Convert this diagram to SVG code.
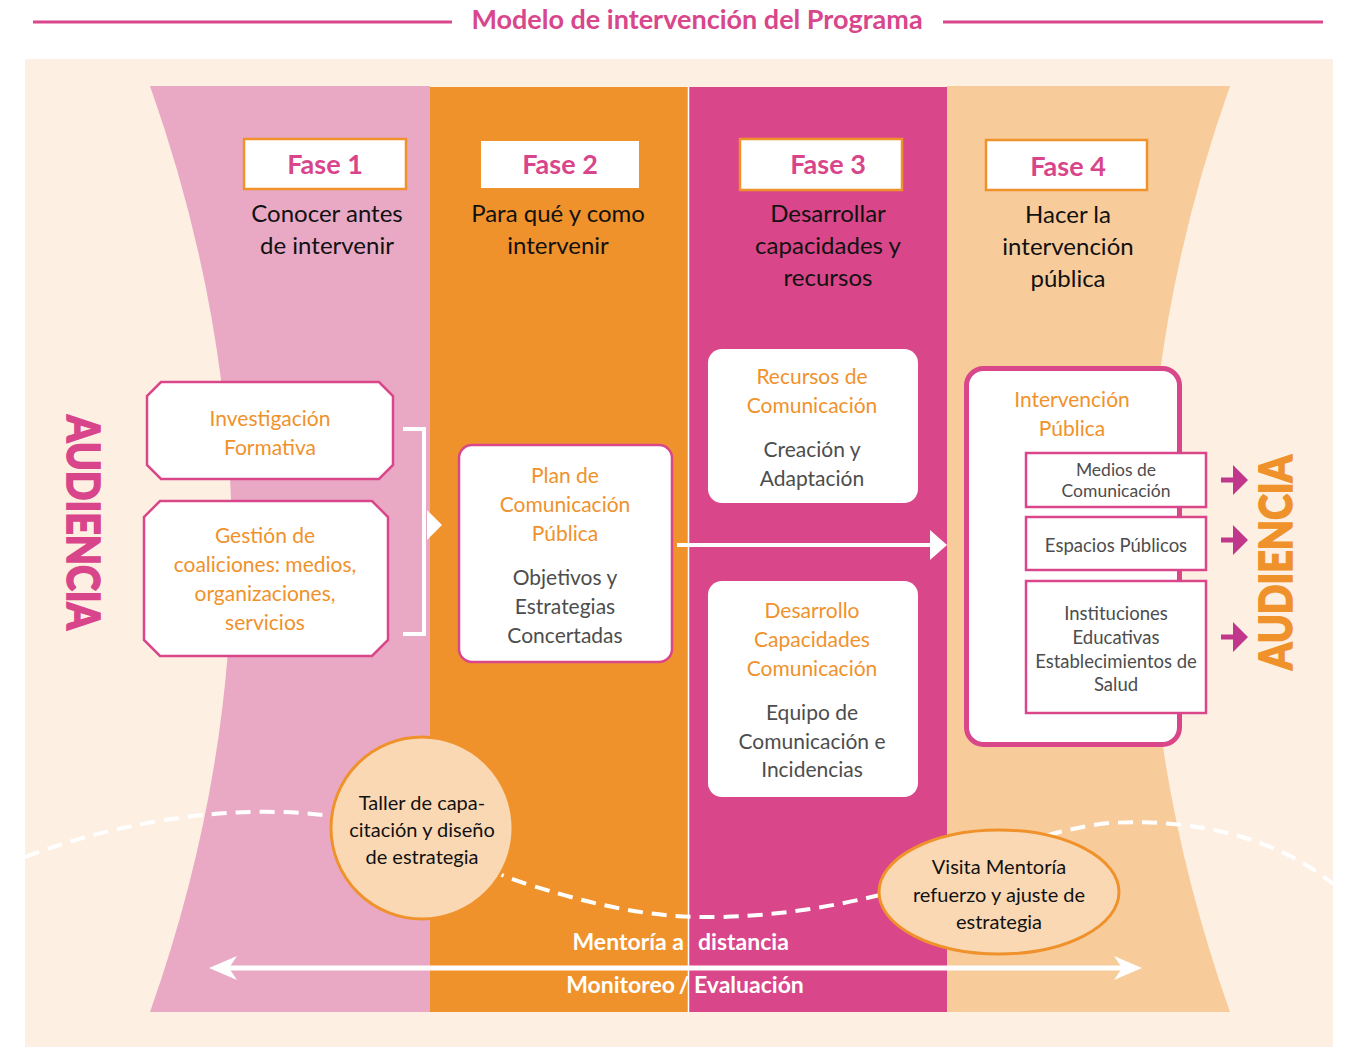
<svg xmlns="http://www.w3.org/2000/svg" width="1349" height="1047" viewBox="0 0 1349 1047">
<defs>
<style>
text{font-family:Lato,"Open Sans","Liberation Sans",sans-serif;text-anchor:middle}
.title{font-size:27px;font-weight:700;fill:#d8468b}
.fase{font-size:27px;font-weight:700;fill:#d9458a}
.sub{font-size:24px;fill:#111}
.or{font-size:21px;fill:#f0922c}
.gr{font-size:21px;fill:#4d4d4d}
.sm{font-size:18.5px;fill:#4d4d4d}
.sm2{font-size:17.5px;fill:#4d4d4d}
.blk{font-size:20px;fill:#111}
.wb{font-size:23px;font-weight:700;fill:#fff}
.aud{font-size:45px;font-weight:900;stroke-width:1.6}
.fbox{fill:#fff;stroke:#f0922c;stroke-width:2.5}
.oct{fill:#fff;stroke:#d9478a;stroke-width:2.5}
.pbox{fill:#fff;stroke:#d9478a;stroke-width:2.5}
.wl{fill:none;stroke:#fff;stroke-width:4}
.ma{fill:#c1378c}
</style>
</defs>
<rect x="0" y="0" width="1349" height="1047" fill="#fff"/>
<g id="title">
<line x1="33" y1="22" x2="452" y2="22" stroke="#d9478a" stroke-width="3"/>
<line x1="943" y1="22" x2="1323" y2="22" stroke="#d9478a" stroke-width="3"/>
<text class="title" x="697" y="29">Modelo de intervención del Programa</text>
</g>
<rect x="25" y="59" width="1308" height="988" fill="#fdefe2"/>
<g id="columns">
<path d="M150 86 L430 86 L430 1012 L150 1012 Q314 549 150 86 Z" fill="#e9a9c5"/>
<rect x="430" y="87" width="258" height="925" fill="#f0922c"/>
<rect x="689" y="87" width="258" height="925" fill="#d94689"/>
<path d="M947 86 L1230 86 Q1066 549 1230 1012 L947 1012 Z" fill="#f8cb9b"/>
<line x1="688.5" y1="87" x2="688.5" y2="1012" stroke="#fff" stroke-width="1.5"/>
</g>
<g id="connectors">
<path d="M25 857 C110 825 200 810 280 812 C400 815 450 860 530 885 C610 910 660 918 720 917 C800 915 860 900 900 890 C980 860 1040 830 1110 823 C1200 818 1280 840 1333 884" fill="none" stroke="#fff" stroke-width="4" stroke-dasharray="15 9"/>
<path class="wl" d="M403 429 L424 429 L424 634 L403 634"/>
<path d="M427 510 L442 525 L427 540 Z" fill="#fff"/>
<line x1="677" y1="545" x2="932" y2="545" stroke="#fff" stroke-width="4"/>
<path d="M930 530 L947 545 L930 560 Z" fill="#fff"/>
<path class="ma" d="M1221 477.5 L1233 477.5 L1233 465 L1248 480 L1233 495 L1233 482.5 L1221 482.5 Z"/>
<path class="ma" d="M1221 537.5 L1233 537.5 L1233 525 L1248 540 L1233 555 L1233 542.5 L1221 542.5 Z"/>
<path class="ma" d="M1221 634.5 L1233 634.5 L1233 622 L1248 637 L1233 652 L1233 639.5 L1221 639.5 Z"/>
<line x1="225" y1="968" x2="1126" y2="968" stroke="#fff" stroke-width="5"/>
<path d="M1142 968 L1114 956 L1122 968 L1114 980 Z" fill="#fff"/>
<path d="M209 968 L237 956 L229 968 L237 980 Z" fill="#fff"/>
</g>
<g id="audiencia-left">
<text class="aud" fill="#d9458a" stroke="#d9458a" transform="translate(67,415) rotate(90)" style="text-anchor:start" textLength="215" lengthAdjust="spacingAndGlyphs">AUDIENCIA</text>
</g>
<g id="audiencia-right">
<text class="aud" fill="#f0922c" stroke="#f0922c" transform="translate(1292,670) rotate(-90)" style="text-anchor:start" textLength="215" lengthAdjust="spacingAndGlyphs">AUDIENCIA</text>
</g>
<g id="fase1">
<rect class="fbox" x="244" y="139" width="162" height="50"/>
<text class="fase" x="325" y="174">Fase 1</text>
<text class="sub" x="327" y="222">Conocer antes</text>
<text class="sub" x="327" y="254">de intervenir</text>
</g>
<g id="fase2">
<rect x="481" y="141" width="158" height="47" fill="#fff"/>
<text class="fase" x="560" y="174">Fase 2</text>
<text class="sub" x="558" y="222">Para qué y como</text>
<text class="sub" x="558" y="254">intervenir</text>
</g>
<g id="fase3">
<rect class="fbox" x="740" y="139" width="162" height="51"/>
<text class="fase" x="828" y="174">Fase 3</text>
<text class="sub" x="828" y="222">Desarrollar</text>
<text class="sub" x="828" y="254">capacidades y</text>
<text class="sub" x="828" y="286">recursos</text>
</g>
<g id="fase4">
<rect class="fbox" x="986" y="140" width="161" height="50"/>
<text class="fase" x="1068" y="176">Fase 4</text>
<text class="sub" x="1068" y="223">Hacer la</text>
<text class="sub" x="1068" y="255">intervención</text>
<text class="sub" x="1068" y="287">pública</text>
</g>
<g id="investigacion">
<polygon class="oct" points="161,382 379,382 393,396 393,465 379,479 161,479 147,465 147,396"/>
<text class="or" x="270" y="426">Investigación</text>
<text class="or" x="270" y="455">Formativa</text>
</g>
<g id="gestion">
<polygon class="oct" points="160,501 372,501 388,517 388,640 372,656 160,656 144,640 144,517"/>
<text class="or" x="265" y="543">Gestión de</text>
<text class="or" x="265" y="572">coaliciones: medios,</text>
<text class="or" x="265" y="601">organizaciones,</text>
<text class="or" x="265" y="630">servicios</text>
</g>
<g id="plan">
<rect class="pbox" x="459" y="445" width="213" height="217" rx="13"/>
<text class="or" x="565" y="483">Plan de</text>
<text class="or" x="565" y="512">Comunicación</text>
<text class="or" x="565" y="541">Pública</text>
<text class="gr" x="565" y="585">Objetivos y</text>
<text class="gr" x="565" y="614">Estrategias</text>
<text class="gr" x="565" y="643">Concertadas</text>
</g>
<g id="recursos">
<rect x="708" y="349" width="210" height="154" rx="14" fill="#fff"/>
<text class="or" x="812" y="384">Recursos de</text>
<text class="or" x="812" y="413">Comunicación</text>
<text class="gr" x="812" y="457">Creación y</text>
<text class="gr" x="812" y="486">Adaptación</text>
</g>
<g id="desarrollo">
<rect x="708" y="581" width="210" height="216" rx="14" fill="#fff"/>
<text class="or" x="812" y="618">Desarrollo</text>
<text class="or" x="812" y="647">Capacidades</text>
<text class="or" x="812" y="676">Comunicación</text>
<text class="gr" x="812" y="720">Equipo de</text>
<text class="gr" x="812" y="749">Comunicación e</text>
<text class="gr" x="812" y="777">Incidencias</text>
</g>
<g id="intervencion">
<rect x="966.5" y="368.5" width="213" height="376" rx="17" fill="#fff" stroke="#d9478a" stroke-width="5"/>
<text class="or" x="1072" y="407">Intervención</text>
<text class="or" x="1072" y="436">Pública</text>
</g>
<g id="medios">
<rect class="pbox" x="1026" y="453" width="180" height="54"/>
<text class="sm2" x="1116" y="476">Medios de</text>
<text class="sm2" x="1116" y="497">Comunicación</text>
</g>
<g id="espacios">
<rect class="pbox" x="1026" y="517" width="180" height="53"/>
<text class="sm" x="1116" y="552">Espacios Públicos</text>
</g>
<g id="instituciones">
<rect class="pbox" x="1026" y="581" width="180" height="132"/>
<text class="sm" x="1116" y="620">Instituciones</text>
<text class="sm" x="1116" y="644">Educativas</text>
<text class="sm" x="1116" y="668">Establecimientos de</text>
<text class="sm" x="1116" y="691">Salud</text>
</g>
<g id="taller">
<circle cx="422" cy="828" r="91" fill="#fbd8b4" stroke="#f0922c" stroke-width="3"/>
<text class="blk" x="422" y="810">Taller de capa-</text>
<text class="blk" x="422" y="837">citación y diseño</text>
<text class="blk" x="422" y="864">de estrategia</text>
</g>
<g id="visita">
<ellipse cx="999" cy="892" rx="120" ry="62" fill="#fbd8b4" stroke="#f0922c" stroke-width="3"/>
<text class="blk" x="999" y="874">Visita Mentoría</text>
<text class="blk" x="999" y="902">refuerzo y ajuste de</text>
<text class="blk" x="999" y="929">estrategia</text>
</g>
<g id="labels">
<text class="wb" x="684" y="950" style="text-anchor:end">Mentoría a</text>
<text class="wb" x="698" y="950" style="text-anchor:start">distancia</text>
<text class="wb" x="675" y="993" style="text-anchor:end">Monitoreo</text>
<text class="wb" x="684" y="993">/</text>
<text class="wb" x="694" y="993" style="text-anchor:start">Evaluación</text>
</g>
</svg>
